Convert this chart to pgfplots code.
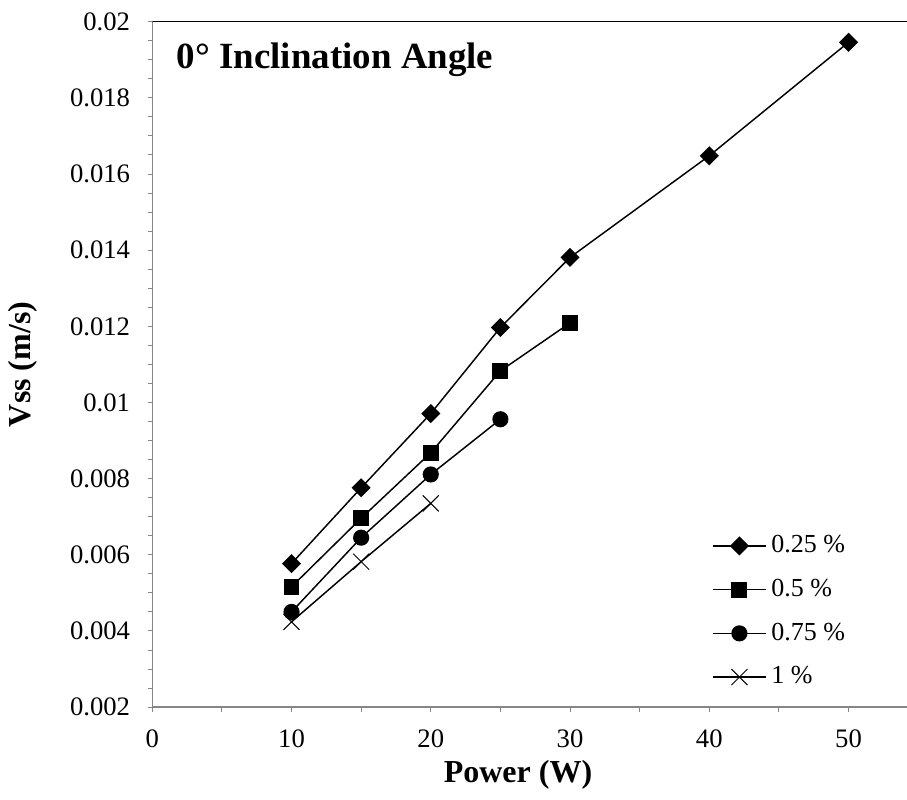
\documentclass[border=0pt]{standalone}
\usepackage{fontspec}
\setmainfont{Liberation Serif}
\usepackage{pgfplots}
\pgfplotsset{compat=1.18}
\definecolor{axgray}{RGB}{134,134,134}
\begin{document}
\begin{tikzpicture}
\begin{axis}[
  name=ax,
  scale only axis,
  width=566pt, height=514pt,
  xmin=0, xmax=54.2, ymin=0.002, ymax=0.02,
  axis x line*=bottom, axis y line*=left,
  axis line style={draw=axgray, line width=1pt},
  xtick={0,10,20,30,40,50},
  minor x tick num=1,
  ytick={0.002,0.004,0.006,0.008,0.01,0.012,0.014,0.016,0.018,0.02},
  yticklabels={0.002,0.004,0.006,0.008,0.01,0.012,0.014,0.016,0.018,0.02},
  minor y tick num=3,
  scaled y ticks=false,
  tick align=outside,
  major tick length=3.5pt, minor tick length=3.5pt,
  every tick/.style={axgray, line width=0.75pt},
  tick label style={font=\fontsize{20}{20}\selectfont},
  /pgf/number format/assume math mode=true,
  yticklabel style={anchor=east, inner sep=0pt, xshift=-13pt},
  xticklabel style={anchor=north, inner sep=0pt, yshift=-13pt},
  xlabel={Power (W)}, ylabel={Vss (m/s)},
  label style={font=\fontsize{24}{24}\selectfont\bfseries},
  xlabel style={at={(axis description cs:0.4846,-0.0992)}, anchor=center},
  ylabel style={at={(axis description cs:-0.1714,0.5)}, anchor=center},
  legend style={at={(rel axis cs:0.736,0.257)}, anchor=north west, draw=none, fill=none,
    font=\fontsize{19.5}{19.5}\selectfont, row sep=14.8pt, column sep=3.5pt,
    nodes={inner sep=0pt, text height=14pt, text depth=4pt}},
  legend cell align=left,
  legend image code/.code={
    \draw[mark repeat=2,mark phase=2,#1] plot coordinates {(0pt,0pt)(20pt,0pt)(40pt,0pt)};
  },
  every axis plot/.append style={black, line width=1.1pt},
]
\addplot[mark=square*, mark size=4.5pt, mark options={rotate=45, solid}] coordinates {
(10,0.00577)(15,0.00776)(20,0.00971)(25,0.01197)(30,0.01381)(40,0.01648)(50,0.01946)};
\addlegendentry{0.25 \%}
\addplot[mark=square*, mark size=5.4pt, mark options={solid}] coordinates {
(10,0.00516)(15,0.00696)(20,0.00868)(25,0.01083)(30,0.01209)};
\addlegendentry{0.5 \%}
\addplot[mark=*, mark size=5.5pt, mark options={solid}] coordinates {
(10,0.00450)(15,0.00645)(20,0.00811)(25,0.00956)};
\addlegendentry{0.75 \%}
\addplot[mark=x, mark size=8.5pt, mark options={solid, line width=0.75pt}] coordinates {
(10,0.00424)(15,0.00582)(20,0.00735)};
\addlegendentry{1 \%}
\draw[black, line width=1pt] (rel axis cs:0,1) -- (rel axis cs:1,1);
\node[anchor=west, font=\fontsize{27.7}{27.7}\selectfont\bfseries, inner sep=0pt] at (rel axis cs:0.0323,0.944) {0° Inclination Angle};
\end{axis}
\pgfresetboundingbox
\useasboundingbox ([xshift=-114.2pt, yshift=-69pt]ax.south west) rectangle ([yshift=16.3pt]ax.north east);
\end{tikzpicture}
\end{document}
